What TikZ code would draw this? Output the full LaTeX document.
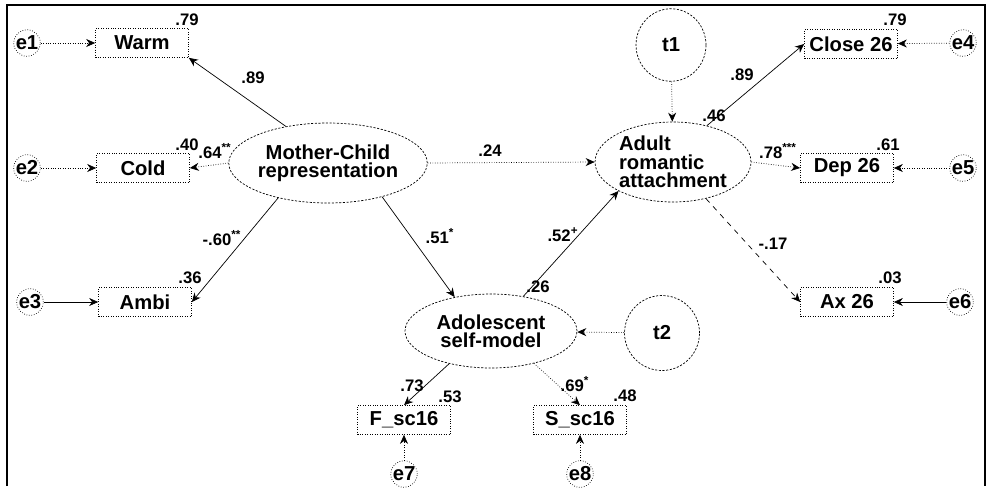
\documentclass[tikz,border=0pt]{standalone}
\usepackage{fontspec}
\setsansfont{Liberation Sans}
\usetikzlibrary{shapes.geometric, arrows.meta}

\begin{document}
\begin{tikzpicture}[
	x=0.02cm, y=-0.02cm,
	obs/.style={draw, densely dotted, minimum width=1.86cm, minimum height=0.58cm, inner sep=0pt, font=\sffamily\bfseries\fontsize{11.5}{12}\selectfont},
	lat/.style={draw, ellipse, dash pattern=on 1.2pt off 0.9pt, inner sep=0pt, align=center, font=\sffamily\bfseries\fontsize{11.5}{10.5}\selectfont},
	err/.style={draw, circle, densely dotted, minimum size=0.44cm, inner sep=0pt, font=\sffamily\bfseries\fontsize{11.5}{12}\selectfont},
	coef/.style={inner sep=0pt, font=\sffamily\bfseries\fontsize{9.5}{10}\selectfont},
	>={Stealth[length=1.8mm, width=1.6mm]}
]
	\useasboundingbox (0,0) rectangle (987,488);
	\draw[thick] (7,486) -- (7,5) -- (985,5) -- (985,486);

	% latent variables
	\node[lat, minimum width=3.32cm, minimum height=1.6cm] (mc) at (328,163) {Mother-Child\\representation};
	\node[lat, minimum width=3.12cm, minimum height=1.6cm, align=left] (ara) at (673,162) {Adult\\romantic\\attachment};
	\node[lat, minimum width=3.44cm, minimum height=1.48cm] (asm) at (491,331) {Adolescent\\self-model};
	\node[lat, minimum width=1.4cm, minimum height=1.45cm] (t1) at (671,45) {t1};
	\node[lat, minimum width=1.5cm, minimum height=1.5cm] (t2) at (662,333) {t2};

	% indicators
	\node[obs] (warm) at (142,43) {Warm};
	\node[obs] (cold) at (143,168) {Cold};
	\node[obs] (ambi) at (145,302) {Ambi};
	\node[obs] (close) at (851,44) {Close 26};
	\node[obs] (dep) at (847,168) {Dep 26};
	\node[obs] (ax) at (847,302) {Ax 26};
	\node[obs] (fsc) at (404,420) {F\_sc16};
	\node[obs] (ssc) at (580,420) {S\_sc16};

	% errors
	\node[err] (e1) at (27,43) {e1};
	\node[err] (e2) at (27,168) {e2};
	\node[err] (e3) at (30,302) {e3};
	\node[err] (e4) at (963,43) {e4};
	\node[err] (e5) at (963,168) {e5};
	\node[err] (e6) at (960,302) {e6};
	\node[err] (e7) at (404,474) {e7};
	\node[err] (e8) at (580,474) {e8};

	% paths
	\draw[->] (mc.139) -- (warm.south east);
	\draw[->, densely dotted] (mc.west) -- (cold.east);
	\draw[->] (mc.215) -- (ambi.east);
	\draw[->, densely dotted] (mc.east) -- (ara.west);
	\draw[->] (mc.328) -- (asm.137);
	\draw[->] (asm.47) -- (ara.208);
	\draw[->] (ara.47) -- (close.west);
	\draw[->, densely dotted] (ara.east) -- (dep.west);
	\draw[->, dashed] (ara.312) -- (ax.west);
	\draw[->] (asm.218) -- (fsc.north);
	\draw[->, densely dotted] (asm.323) -- (ssc.north);
	\draw[->, densely dotted] (t1) -- (ara);
	\draw[->, densely dotted] (t2) -- (asm);
	\draw[->, densely dotted] (e1) -- (warm);
	\draw[->, densely dotted] (e2) -- (cold);
	\draw[->] (e3) -- (ambi);
	\draw[->, densely dotted] (e4) -- (close);
	\draw[->, densely dotted] (e5) -- (dep);
	\draw[->] (e6) -- (ax);
	\draw[->, densely dotted] (e7) -- (fsc);
	\draw[->, densely dotted] (e8) -- (ssc);

	% coefficients
	\node[coef] (r1) at (187,20) {.79};
	\node[coef] (c1) at (253,78) {.89};
	\node[coef] (r2) at (187,145) {.40};
	\node[coef] (c2) at (215,151) {.64\textsuperscript{**}};
	\node[coef] (c3) at (222,238) {-.60\textsuperscript{**}};
	\node[coef] (r3) at (190,278) {.36};
	\node[coef] (c4) at (490,151) {.24};
	\node[coef] (c5) at (440,236) {.51\textsuperscript{*}};
	\node[coef] (c6) at (563,235) {.52\textsuperscript{+}};
	\node[coef] (r6) at (538,287) {.26};
	\node[coef] (r5) at (714,116) {.46};
	\node[coef] (c7) at (742,75) {.89};
	\node[coef] (r4) at (895,20) {.79};
	\node[coef] (c8) at (778,151) {.78\textsuperscript{***}};
	\node[coef] (r7) at (888,145) {.61};
	\node[coef] (c9) at (773,244) {-.17};
	\node[coef] (r8) at (890,278) {.03};
	\node[coef] (c10) at (412,386) {.73};
	\node[coef] (r9) at (450,397) {.53};
	\node[coef] (c11) at (575,384) {.69\textsuperscript{*}};
	\node[coef] (r10) at (625,396) {.48};
\end{tikzpicture}
\end{document}
